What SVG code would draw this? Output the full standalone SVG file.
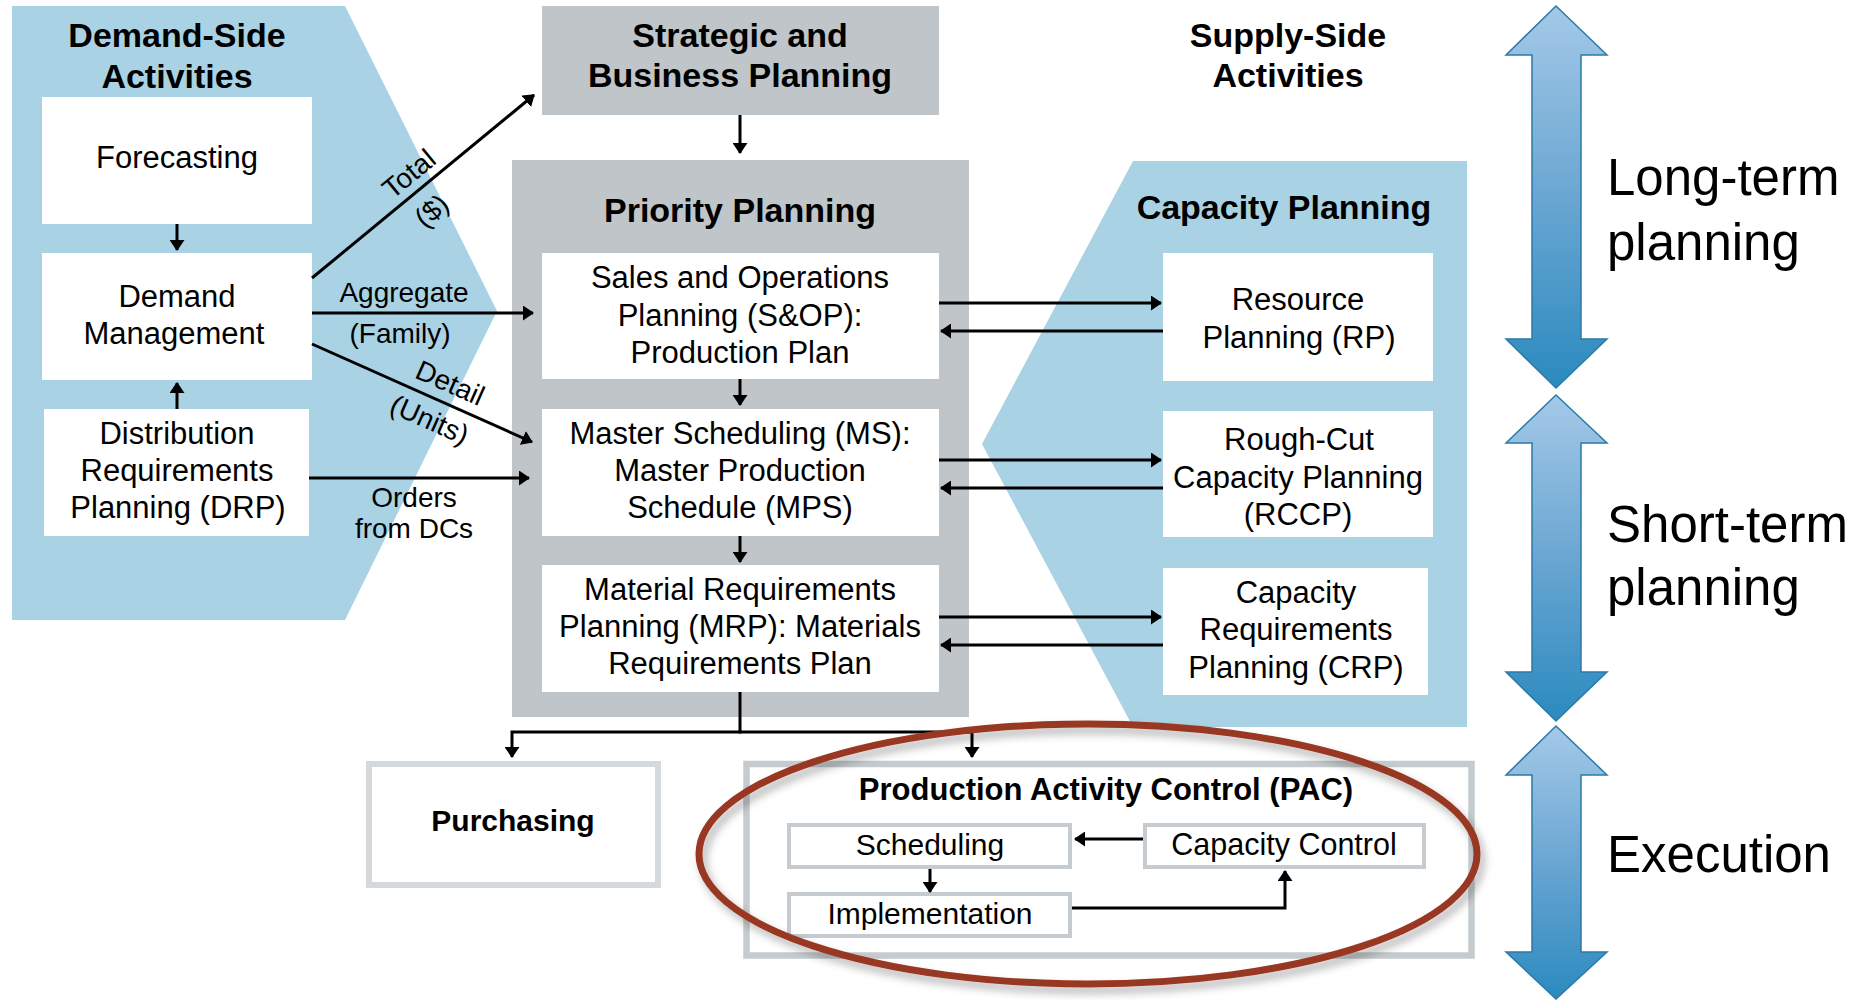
<svg xmlns="http://www.w3.org/2000/svg" width="1870" height="1000" viewBox="0 0 1870 1000">
<style>
text{font-family:"Liberation Sans",Arial,sans-serif;fill:#000;}
.t{font-size:31px;text-anchor:middle;}
.b{font-size:34px;font-weight:bold;text-anchor:middle;}
.l{font-size:28px;text-anchor:middle;}
.big{font-size:51px;}
.blue{fill:#a9d2e5;}
.gray{fill:#bfc5c8;}
.wb{fill:#fff;}
.c{fill:none;stroke:#000;stroke-width:3;marker-end:url(#ah);}
.sb{fill:#fff;stroke:#c5cbce;stroke-width:4;}
.tb{fill:url(#grad);stroke:#2b7aa8;stroke-width:1.5;}
</style>
<defs>
<marker id="ah" viewBox="0 0 11 15" refX="10" refY="7.5" markerWidth="11" markerHeight="15" markerUnits="userSpaceOnUse" orient="auto">
<path d="M0,0 L11,7.5 L0,15 z" fill="#000"/>
</marker>
<linearGradient id="grad" x1="0" y1="0" x2="0" y2="1">
<stop offset="0" stop-color="#a4c9e8"/>
<stop offset="0.5" stop-color="#6aa6d2"/>
<stop offset="1" stop-color="#2b8abf"/>
</linearGradient>
<filter id="sh" x="-10%" y="-20%" width="120%" height="140%">
<feDropShadow dx="4" dy="6" stdDeviation="4" flood-color="#000" flood-opacity="0.3"/>
</filter>
</defs>

<g id="demand-side">
<polygon class="blue" points="12,6 345,6 497,311 345,620 12,620"/>
<text class="b" x="177" y="47">Demand-Side</text>
<text class="b" x="177" y="88">Activities</text>
</g>
<g id="forecasting">
<rect class="wb" x="42" y="97" width="270" height="127"/>
<text class="t" x="177" y="168">Forecasting</text>
</g>
<g id="demand-management">
<rect class="wb" x="42" y="253" width="270" height="127"/>
<text class="t" x="177" y="307">Demand</text>
<text class="t" x="174" y="344">Management</text>
</g>
<g id="drp">
<rect class="wb" x="44" y="409" width="265" height="127"/>
<text class="t" x="177" y="444">Distribution</text>
<text class="t" x="177" y="481">Requirements</text>
<text class="t" x="178" y="518">Planning (DRP)</text>
</g>

<g id="strategic">
<rect class="gray" x="542" y="6" width="397" height="109"/>
<text class="b" x="740" y="47">Strategic and</text>
<text class="b" x="740" y="87">Business Planning</text>
</g>
<g id="priority-planning">
<rect class="gray" x="512" y="160" width="457" height="557"/>
<text class="b" x="740" y="222">Priority Planning</text>
</g>
<g id="sop">
<rect class="wb" x="542" y="253" width="397" height="126"/>
<text class="t" x="740" y="288">Sales and Operations</text>
<text class="t" x="740" y="326">Planning (S&amp;OP):</text>
<text class="t" x="740" y="363">Production Plan</text>
</g>
<g id="ms">
<rect class="wb" x="542" y="409" width="397" height="127"/>
<text class="t" x="740" y="444">Master Scheduling (MS):</text>
<text class="t" x="740" y="481">Master Production</text>
<text class="t" x="740" y="518">Schedule (MPS)</text>
</g>
<g id="mrp">
<rect class="wb" x="542" y="565" width="397" height="127"/>
<text class="t" x="740" y="600">Material Requirements</text>
<text class="t" x="740" y="637">Planning (MRP): Materials</text>
<text class="t" x="740" y="674">Requirements Plan</text>
</g>

<g id="supply-side">
<text class="b" x="1288" y="47">Supply-Side</text>
<text class="b" x="1288" y="87">Activities</text>
</g>
<g id="capacity-planning">
<polygon class="blue" points="1133,161 1467,161 1467,727 1133,727 982,444"/>
<text class="b" x="1284" y="219">Capacity Planning</text>
</g>
<g id="rp">
<rect class="wb" x="1163" y="253" width="270" height="128"/>
<text class="t" x="1298" y="310">Resource</text>
<text class="t" x="1299" y="348">Planning (RP)</text>
</g>
<g id="rccp">
<rect class="wb" x="1163" y="411" width="270" height="126"/>
<text class="t" x="1299" y="450">Rough-Cut</text>
<text class="t" x="1298" y="488">Capacity Planning</text>
<text class="t" x="1298" y="525">(RCCP)</text>
</g>
<g id="crp">
<rect class="wb" x="1163" y="568" width="265" height="127"/>
<text class="t" x="1296" y="603">Capacity</text>
<text class="t" x="1296" y="640">Requirements</text>
<text class="t" x="1296" y="678">Planning (CRP)</text>
</g>

<g id="purchasing">
<rect fill="#fff" stroke="#d5d9db" stroke-width="6" x="369" y="764" width="289" height="121"/>
<text class="b" style="font-size:30px" x="513" y="831">Purchasing</text>
</g>
<g id="pac">
<rect fill="#fff" stroke="#c5cbce" stroke-width="6.5" x="746.5" y="764" width="725" height="191.5"/>
<text class="b" style="font-size:31px" x="1106" y="800">Production Activity Control (PAC)</text>
</g>
<g id="scheduling">
<rect class="sb" x="789" y="825" width="281" height="42"/>
<text class="t" style="font-size:30px" x="930" y="855">Scheduling</text>
</g>
<g id="capacity-control">
<rect class="sb" x="1145" y="825" width="279" height="42"/>
<text class="t" style="font-size:30.5px" x="1284" y="855">Capacity Control</text>
</g>
<g id="implementation">
<rect class="sb" x="789" y="894" width="281" height="42"/>
<text class="t" style="font-size:30px" x="930" y="924">Implementation</text>
</g>

<g id="connectors">
<path class="c" d="M177,224 V250"/>
<path class="c" d="M177,409 V383"/>
<path class="c" d="M312,278 L534,95"/>
<path class="c" d="M312,313 H533"/>
<path class="c" d="M312,344 L532,442"/>
<path class="c" d="M309,478 H529"/>
<path class="c" d="M740,115 V153"/>
<path class="c" d="M740,379 V405"/>
<path class="c" d="M740,536 V562"/>
<path class="c" d="M939,303 H1161"/>
<path class="c" d="M1163,331 H941"/>
<path class="c" d="M939,460 H1161"/>
<path class="c" d="M1163,488 H941"/>
<path class="c" d="M939,617 H1161"/>
<path class="c" d="M1163,645 H941"/>
<path fill="none" stroke="#000" stroke-width="3" d="M740,692 V732"/>
<path class="c" d="M741.5,732 H512 V757"/>
<path class="c" d="M738.5,732 H972 V757"/>
<path class="c" d="M1143,839 H1075"/>
<path class="c" d="M930,869 V892"/>
<path class="c" d="M1072,908 H1285 V871"/>
<g id="edge-labels">
<text class="l" x="404" y="302">Aggregate</text>
<text class="l" x="400" y="343">(Family)</text>
<text class="l" x="414" y="507">Orders</text>
<text class="l" x="414" y="538">from DCs</text>
<g transform="translate(418.5,190) rotate(-39.5)">
<text class="l" x="3" y="-9">Total</text>
<text class="l" x="-3" y="34">($)</text>
</g>
<g transform="translate(440,401) rotate(24)">
<text class="l" x="2" y="-11">Detail</text>
<text class="l" x="-2" y="31">(Units)</text>
</g>
</g>
</g>

<g id="pac-highlight">
<ellipse cx="1088" cy="854" rx="389" ry="130" fill="none" stroke="#993822" stroke-width="7" filter="url(#sh)"/>
</g>

<g id="timeline">
<polygon class="tb" points="1556,6 1607,55 1581,55 1581,339 1607,339 1556,388 1506,339 1532,339 1532,55 1506,55"/>
<polygon class="tb" points="1556,395 1607,443 1581,443 1581,672 1607,672 1556,721 1506,672 1532,672 1532,443 1506,443"/>
<polygon class="tb" points="1556,726 1607,775 1581,775 1581,952 1607,952 1556,999 1506,952 1532,952 1532,775 1506,775"/>
<text class="big" x="1607" y="195">Long-term</text>
<text class="big" x="1607" y="260">planning</text>
<text class="big" x="1607" y="542">Short-term</text>
<text class="big" x="1607" y="605">planning</text>
<text class="big" x="1607" y="872">Execution</text>
</g>
</svg>
